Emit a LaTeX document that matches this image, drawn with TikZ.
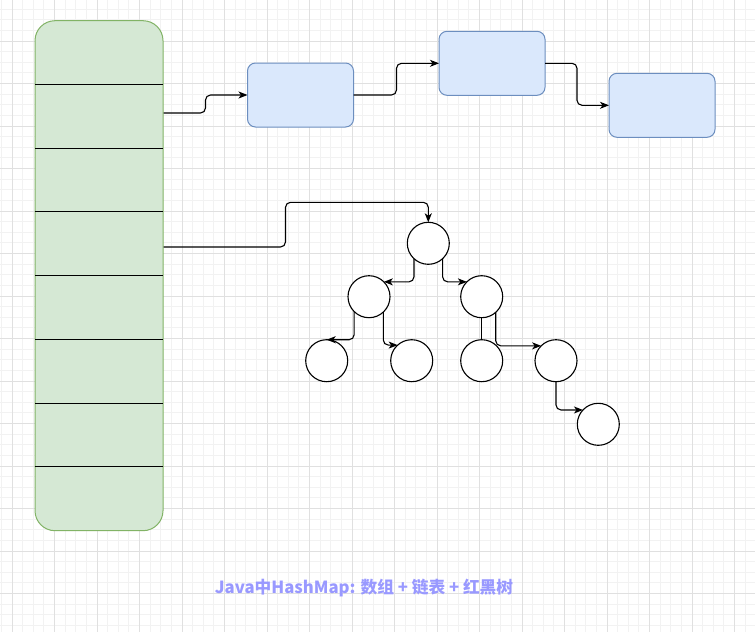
\documentclass[tikz,border=0pt]{standalone}
\usepackage{fontspec}
\newfontfamily\cjk{Noto Sans CJK SC}
\usetikzlibrary{arrows.meta,calc}
\definecolor{gridmajor}{HTML}{E0E0E0}
\definecolor{gridminor}{HTML}{F2F2F2}
\definecolor{arrfill}{HTML}{D5E8D4}
\definecolor{arrline}{HTML}{82B366}
\definecolor{boxfill}{HTML}{DAE8FC}
\definecolor{boxline}{HTML}{6C8EBF}
\definecolor{labelcol}{HTML}{9999FF}
\tikzset{
  arraybox/.style={draw=arrline, fill=arrfill, line width=1pt, rounded corners=20pt,
    minimum width=128pt, minimum height=510pt, inner sep=0pt, outer sep=0pt},
  listbox/.style={draw=boxline, fill=boxfill, line width=1pt, rounded corners=8pt,
    minimum width=106pt, minimum height=64pt, inner sep=0pt, outer sep=0pt},
  treenode/.style={circle, draw=black, fill=white, line width=1.1pt,
    minimum size=42pt, inner sep=0pt, outer sep=0pt},
  conn/.style={draw=black, line width=1.1pt, rounded corners=5pt,
    -{Stealth[length=9pt,width=7pt,inset=2.5pt]}},
  plainconn/.style={draw=black, line width=1.1pt},
  divider/.style={draw=black, line width=1pt}
}
\begin{document}
\begin{tikzpicture}[x=1pt,y=-1pt]
\useasboundingbox (0,0) rectangle (755,632);
\fill[white] (0,0) rectangle (755,632);
% grid
\foreach \i in {0,...,70} {\draw[gridminor, line width=0.8pt] ({1.375+10.625*\i},0) -- ({1.375+10.625*\i},632);}
\foreach \j in {0,...,58} {\draw[gridminor, line width=0.8pt] (0,{9.125+10.625*\j}) -- (755,{9.125+10.625*\j});}
\foreach \i in {0,...,17} {\draw[gridmajor, line width=1pt] ({12+42.5*\i},0) -- ({12+42.5*\i},632);}
\foreach \j in {0,...,13} {\draw[gridmajor, line width=1pt] (0,{41+42.5*\j}) -- (755,{41+42.5*\j});}

% array
\node[arraybox] (arr) at (99,275.7) {};
\foreach \k in {1,...,7} {
  \draw[divider] ($(arr.north west)!\k/8!(arr.south west)$) -- ($(arr.north east)!\k/8!(arr.south east)$);
}
\coordinate (s1) at (163.5,113);
\coordinate (s2) at (163.5,247);

% linked list
\node[listbox] (b1) at (300.5,95) {};
\node[listbox] (b2) at (492,63.3) {};
\node[listbox] (b3) at (662,105.3) {};

\draw[conn] (s1) -- ++(42,0) |- (b1.west);
\draw[conn] (b1.east) -- ++(43,0) |- (b2.west);
\draw[conn] (b2.east) -- ++(32,0) |- (b3.west);

% tree
\node[treenode] (root) at (428.3,243.3) {};
\node[treenode] (L) at (369,296.7) {};
\node[treenode] (R) at (481.7,296.7) {};
\node[treenode] (LL) at (326.7,360.7) {};
\node[treenode] (LR) at (411.7,360.7) {};
\node[treenode] (RL) at (481.7,360.7) {};
\node[treenode] (RR) at (556,360.7) {};
\node[treenode] (RRR) at (598.3,424.3) {};

\draw[conn] (s2) -- ++(122,0) |- ([yshift=20pt]root.north) -- (root.north);
\draw[conn] (root.227) |- (L.45);
\draw[conn] (root.313) |- (R.135);
\draw[conn] (L.225) |- (LL.north);
\draw[conn] (L.313) |- (LR.132);
\draw[plainconn] (R.south) -- (RL.north);
\draw[conn] (R.312) |- (RR.135);
\draw[conn] (RR.south) |- (RRR.137);

% label
\node[text=labelcol, font=\cjk\bfseries\fontsize{16.7}{20}\selectfont, inner sep=0pt] (lbl) at (364,588.3) {Java中HashMap: 数组 + 链表 + 红黑树};
\end{tikzpicture}
\end{document}
